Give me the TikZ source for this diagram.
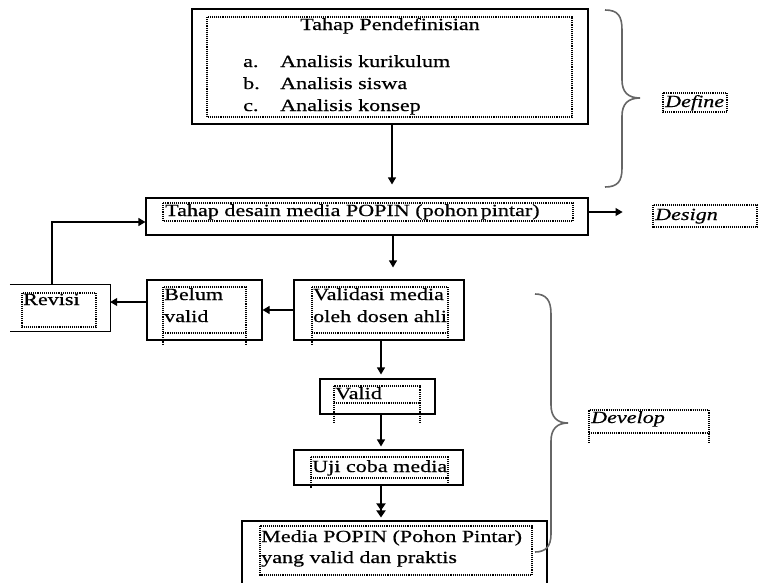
\documentclass[tikz,border=0pt]{standalone}
\usepackage{fontspec}
\setmainfont{Liberation Serif}[FakeStretch=1.3,FakeBold=0.5]
\usetikzlibrary{arrows.meta}
\begin{document}
\begin{tikzpicture}[x=1pt,y=-1pt,
  box/.style={draw, line width=1.1pt, inner sep=0pt},
  txt/.style={anchor=base west, inner sep=0pt, font=\fontsize{17}{20}\selectfont},
  arr/.style={-{Triangle[length=7pt,width=8pt]}, line width=1.1pt},
  darr/.style={-{Triangle[length=7pt,width=9pt]Triangle[length=7pt,width=9pt]}, line width=1.8pt},
  dots/.style={densely dotted, line width=1.1pt},
  brace/.style={line width=1.6pt, draw=black!60}]
\useasboundingbox (0,0) rectangle (763,582);
\clip (0,0) rectangle (763,582);

% boxes
\node[box, minimum width=396pt, minimum height=115pt] (def) at (390,66.5) {};
\node[box, minimum width=442pt, minimum height=37pt] (des) at (367,216.5) {};
\node[inner sep=0pt, minimum width=100pt, minimum height=46pt] (rev) at (60,308) {};
\draw[line width=1.1pt] (rev.north west) -- (rev.north east) -- (rev.south east) -- (rev.south west);
\node[box, minimum width=115pt, minimum height=60pt] (bel) at (204.5,310) {};
\node[box, minimum width=170pt, minimum height=60pt] (val) at (379,310) {};
\node[box, minimum width=115pt, minimum height=35pt] (vld) at (377.5,396.5) {};
\node[box, minimum width=169pt, minimum height=35pt] (uji) at (378.5,467.5) {};
\node[box, minimum width=305pt, minimum height=69pt] (fin) at (394.5,555.5) {};

% dotted inner frames
\draw[dots] (207,17) rectangle (572,117);
\draw[dots] (163,203) rectangle (573,221);
\draw[dots] (22,293) rectangle (96,327);
\draw[dots] (163,287) rectangle (246,333);
\draw[dots] (163,333) -- (163,345) (246,333) -- (246,345);
\draw[dots] (312,287) rectangle (448,333);
\draw[dots] (312,333) -- (312,345) (448,333) -- (448,340);
\draw[dots] (334,386) rectangle (420,403);
\draw[dots] (334,403) -- (334,422) (420,403) -- (420,422);
\draw[dots] (311,457) rectangle (448,478);
\draw[dots] (311,478) -- (311,488) (448,478) -- (448,485);
\draw[dots] (260,526) rectangle (532,575);
\draw[dots] (663,93) rectangle (727,112);
\draw[dots] (653,205) rectangle (757,227);
\draw[dots] (589,443) -- (589,410) -- (709,410) -- (709,443);
\draw[dots] (589,433) -- (709,433);

% texts
\node[txt, anchor=base] (t0) at (390,30) {Tahap Pendefinisian};
\node[txt] (ta) at (243,67) {a.};
\node[txt] (tb) at (243,89) {b.};
\node[txt] (tc) at (243,111) {c.};
\node[txt] (ta2) at (280,67) {Analisis kurikulum};
\node[txt] (tb2) at (280,89) {Analisis siswa};
\node[txt] (tc2) at (280,111) {Analisis konsep};
\node[txt] (tdes) at (165,216) {Tahap desain media POPIN (pohon\,pintar)};
\node[txt] (trev) at (23,305) {Revisi};
\node[txt] (tbel1) at (164,300) {Belum};
\node[txt] (tbel2) at (164,322) {valid};
\node[txt] (tval1) at (313,300) {Validasi media};
\node[txt] (tval2) at (313,322) {oleh dosen ahli};
\node[txt] (tvld) at (335,399) {Valid};
\node[txt] (tuji) at (312,472) {Uji coba media};
\node[txt] (tfin1) at (261,542) {Media POPIN (Pohon Pintar)};
\node[txt] (tfin2) at (261,563) {yang valid dan praktis};
\node[txt, font=\fontsize{17}{20}\selectfont\itshape] (define) at (665,107) {Define};
\node[txt, font=\fontsize{17}{20}\selectfont\itshape] (design) at (655,220) {Design};
\node[txt, font=\fontsize{17}{20}\selectfont\itshape] (develop) at (591,423) {Develop};

% connectors
\draw[arr, shorten >=13pt] ([xshift=2pt]def.south) -- ([xshift=2pt]def.south |- des.north);
\draw[arr, shorten >=12pt] ([xshift=26pt]des.south) -- ([xshift=26pt]des.south |- val.north);
\draw[arr] ([yshift=4.5pt]des.east) -- ++(34,0) coordinate (dtip);
\draw[arr] (val.west) -- (bel.east);
\draw[arr] ([yshift=8pt]bel.west) -- ([yshift=8pt]bel.west -| rev.east);
\draw[arr] ([xshift=-8pt]rev.north) |- ([yshift=-5.5pt]des.west);
\draw[arr, shorten >=4pt] ([xshift=2pt]val.south) -- ([xshift=2pt]val.south |- vld.north);
\draw[arr, shorten >=3pt] ([xshift=3.5pt]vld.south) -- ([xshift=3.5pt]vld.south |- uji.north);
\draw[darr, shorten >=3pt] ([xshift=2.5pt]uji.south) -- ([xshift=2.5pt]uji.south |- fin.north);

% braces
\draw[brace] (605,10) .. controls (618,10) and (622,16) .. (622,30) -- (622,80)
  .. controls (622,92) and (628,98) .. (640,98)
  .. controls (628,98) and (622,104) .. (622,116) -- (622,168)
  .. controls (622,181) and (618,187) .. (605,187);
\draw[brace] (535,294) .. controls (546,294) and (551,300) .. (551,314) -- (551,405)
  .. controls (551,417) and (557,423) .. (568,423)
  .. controls (557,423) and (551,429) .. (551,441) -- (551,534)
  .. controls (551,546) and (546,552) .. (535,552);
\end{tikzpicture}
\end{document}
